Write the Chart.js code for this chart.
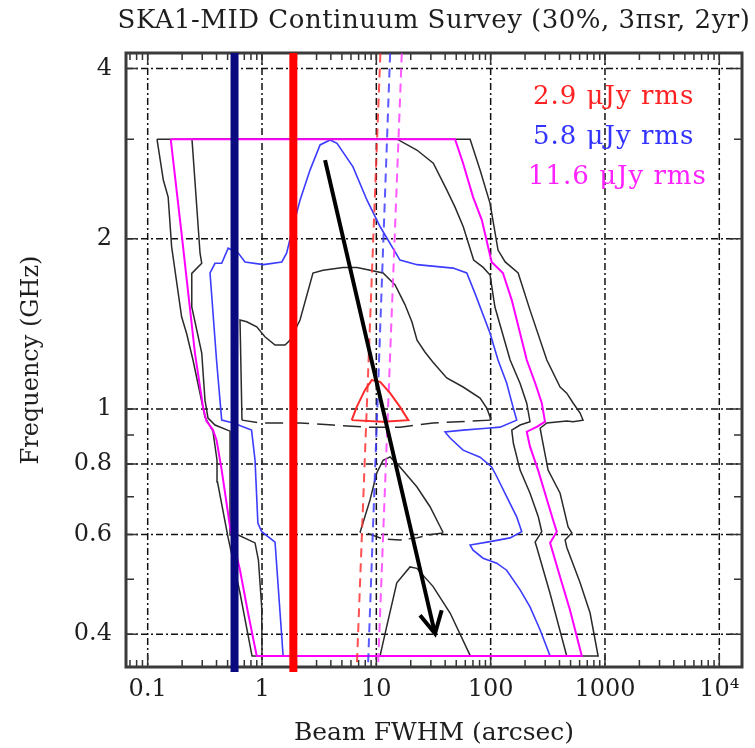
<!DOCTYPE html>
<html>
<head>
<meta charset="utf-8">
<title>SKA1-MID Continuum Survey</title>
<script src="https://cdn.jsdelivr.net/npm/chart.js@4.4.0/dist/chart.umd.min.js"></script>
<style>
  html, body { margin: 0; padding: 0; background: #fff; }
  #wrap { width: 755px; height: 748px; }
</style>
</head>
<body>
<div id="wrap"><canvas id="surveyChart" width="755" height="748"></canvas></div>
<script>
// Axis ranges and ticks
const xMin = 0.0646, xMax = 15800;
const yMin = 0.35, yMax = 4.26;
const xTicks = [0.1, 1, 10, 100, 1000, 10000];
const yTicks = [0.4, 0.6, 0.8, 1, 2, 4];
const yMinor = [0.5, 0.7, 0.9, 3];

// 11.6 uJy contour (magenta)
const magX = [0.159, 48.8, 57.4, 70.2, 83.6, 98.8, 102, 128, 153, 207, 245, 280, 299, 253, 207, 221, 260, 299, 352, 379, 331, 405, 495, 627, 0.899, 0.755, 0.642, 0.525, 0.444, 0.401, 0.373, 0.326, 0.305, 0.259, 0.1995, 0.159];
const magY = [3.0, 3.0, 2.72, 2.37, 2.16, 1.87, 1.82, 1.74, 1.558, 1.221, 1.112, 1.025, 0.95, 0.93, 0.912, 0.858, 0.78, 0.71, 0.636, 0.607, 0.58, 0.505, 0.441, 0.366, 0.366, 0.436, 0.519, 0.619, 0.78, 0.88, 0.918, 0.953, 1.008, 1.256, 2.014, 3.0];

// 5.8 uJy contour (blue)
const blueX = [1.53, 1.30, 0.994, 0.92, 0.869, 0.81, 0.56, 0.444, 0.40, 0.351, 0.388, 0.444, 0.506, 0.62, 0.71, 1.03, 1.49, 1.64, 1.87, 2.15, 2.63, 3.22, 3.94, 4.53, 6.25, 8.29, 10.8, 16.1, 22.7, 46.9, 61.8, 73.1, 98.8, 116, 138, 157, 169, 121, 92.5, 57.4, 39.9, 44.2, 57.4, 80.8, 102, 113, 138, 169, 187, 148, 98.8, 66.1, 70.2, 85.8, 113, 138, 181, 221, 271, 331, 1.53];
const blueY = [0.366, 0.582, 0.607, 0.629, 0.812, 0.918, 0.945, 0.956, 1.221, 1.74, 1.81, 1.81, 1.925, 1.887, 1.82, 1.80, 1.82, 1.886, 2.10, 2.34, 2.645, 2.93, 2.99, 2.95, 2.68, 2.34, 2.10, 1.834, 1.80, 1.775, 1.74, 1.60, 1.362, 1.221, 1.112, 1.008, 0.956, 0.929, 0.925, 0.918, 0.911, 0.889, 0.846, 0.822, 0.79, 0.76, 0.70, 0.645, 0.607, 0.592, 0.583, 0.575, 0.563, 0.545, 0.534, 0.519, 0.479, 0.447, 0.407, 0.366, 0.366];

// 2.9 uJy contour (red)
const redX = [6.09, 6.74, 7.96, 9.12, 10.8, 13.2, 16.1, 19.05, 11.45, 6.09];
const redY = [0.956, 1.009, 1.081, 1.125, 1.117, 1.067, 1.009, 0.956, 0.95, 0.956];

// black contours
const outerX = [0.1206, 66.1, 80.8, 98.8, 116, 134, 174, 221, 310, 405, 463, 526, 606, 643, 526, 463, 310, 271, 280, 318, 405, 476, 513, 448, 463, 606, 741, 871, 0.818, 0.642, 0.504, 0.408, 0.404, 0.372, 0.317, 0.249, 0.219, 0.198, 0.162, 0.151, 0.137, 0.1206];
const outerY = [3.0, 3.0, 2.645, 2.31, 1.91, 1.82, 1.74, 1.496, 1.221, 1.094, 1.067, 1.025, 0.984, 0.956, 0.95, 0.953, 0.945, 0.925, 0.892, 0.78, 0.71, 0.619, 0.604, 0.587, 0.57, 0.493, 0.436, 0.366, 0.366, 0.473, 0.594, 0.743, 0.812, 0.914, 0.968, 1.221, 1.36, 1.456, 1.935, 2.37, 2.54, 3.0];
const innerX = [0.244, 15.2, 22.6, 31.5, 41.3, 48.8, 57.6, 71, 86, 98.8, 109, 148, 181, 207, 221, 181, 153, 158, 181, 221, 261, 280, 245, 253, 331, 463, 1.0, 0.994, 0.93, 0.869, 0.62, 0.525, 0.525, 0.388, 0.337, 0.317, 0.297, 0.243, 0.243, 0.297, 0.287, 0.244];
const innerY = [3.0, 3.0, 2.87, 2.72, 2.44, 2.275, 2.10, 1.834, 1.78, 1.726, 1.515, 1.221, 1.11, 1.023, 0.95, 0.937, 0.918, 0.87, 0.78, 0.71, 0.645, 0.607, 0.582, 0.57, 0.472, 0.366, 0.366, 0.446, 0.541, 0.58, 0.599, 0.599, 0.914, 0.937, 0.964, 1.037, 1.256, 1.515, 1.737, 1.81, 1.886, 3.0];
const midX = [0.668, 0.642, 0.735, 0.899, 1.06, 1.30, 1.59, 1.76, 2.15, 2.79, 3.42, 5.11, 6.78, 11.45, 14.6, 17.8, 20.5, 22.7, 26.7, 31.3, 41.3, 57.4, 80.8, 92.5, 98.8, 100];
const midY = [0.956, 1.437, 1.427, 1.398, 1.342, 1.298, 1.298, 1.324, 1.437, 1.74, 1.76, 1.78, 1.78, 1.74, 1.657, 1.53, 1.425, 1.324, 1.26, 1.21, 1.135, 1.094, 1.046, 1.004, 0.968, 0.956];
const midDashX = [100, 31.3, 16.1, 8.29, 4.18, 2.15, 0.961, 0.668];
const midDashY = [0.956, 0.945, 0.929, 0.929, 0.937, 0.945, 0.945, 0.956];
const bumpX = [7.2, 8.81, 10.08, 11.45, 13.2, 16.1, 22.6, 29.5, 36.1, 38.4];
const bumpY = [0.605, 0.691, 0.771, 0.812, 0.823, 0.79, 0.729, 0.672, 0.62, 0.605];
const bumpDashX = [38.4, 31.3, 22.6, 16.1, 11.45, 8.24, 7.2];
const bumpDashY = [0.604, 0.601, 0.592, 0.587, 0.589, 0.604, 0.605];
const lowX = [10.8, 12.33, 15.1, 19.7, 22.6, 31.3, 44.2, 66.1];
const lowY = [0.367, 0.413, 0.493, 0.526, 0.523, 0.486, 0.436, 0.367];

// dashed confusion lines
const confY = [4.25, 0.35];
const confRedX = [10.85, 6.75];
const confBlueX = [13.2, 8.45];
const confMagX = [16.7, 10.35];

// thick markers and arrow
const barY = [4.26, 0.343];
const navyBeam = 0.575;
const redBeam = 1.88;
const arrowX = [3.56, 32.6];
const arrowY = [2.755, 0.401];
const headX = [24.1, 32.6, 37.3];
const headY = [0.432, 0.401, 0.441];

const FONT = '"DejaVu Serif", "Liberation Serif", serif';
const TEXT = '#1e1e1e';

function pts(xs, ys) {
  return xs.map((v, i) => ({ x: v, y: ys[i] }));
}

function curve(xs, ys, color, width, dash, extra) {
  return Object.assign({
    data: pts(xs, ys),
    showLine: true,
    borderColor: color,
    borderWidth: width,
    borderDash: dash || [],
    pointRadius: 0,
    fill: false,
    tension: 0
  }, extra || {});
}

function logMinors(lo, hi) {
  const out = [];
  for (let e = Math.floor(Math.log10(lo)); e <= Math.ceil(Math.log10(hi)); e++) {
    for (let k = 2; k <= 9; k++) {
      const v = k * Math.pow(10, e);
      if (v > lo && v < hi) out.push(v);
    }
  }
  return out;
}

// grid, ticks, frame, title and legend text
const frameDecor = {
  id: 'frameDecor',
  beforeDatasetsDraw(chart) {
    const { ctx, chartArea: a } = chart;
    const x = chart.scales.x, y = chart.scales.y;
    ctx.save();
    ctx.strokeStyle = '#111';
    ctx.lineWidth = 1.5;
    ctx.setLineDash([7, 3, 2, 3]);
    xTicks.forEach(v => {
      const px = x.getPixelForValue(v);
      ctx.beginPath(); ctx.moveTo(px, a.top); ctx.lineTo(px, a.bottom); ctx.stroke();
    });
    yTicks.forEach(v => {
      const py = y.getPixelForValue(v);
      ctx.beginPath(); ctx.moveTo(a.left, py); ctx.lineTo(a.right, py); ctx.stroke();
    });
    ctx.setLineDash([]);

    // inward ticks on all sides
    ctx.strokeStyle = '#333';
    ctx.lineWidth = 1.5;
    const tickX = (v, len) => {
      const px = x.getPixelForValue(v);
      ctx.beginPath();
      ctx.moveTo(px, a.bottom); ctx.lineTo(px, a.bottom - len);
      ctx.moveTo(px, a.top); ctx.lineTo(px, a.top + len);
      ctx.stroke();
    };
    const tickY = (v, len) => {
      const py = y.getPixelForValue(v);
      ctx.beginPath();
      ctx.moveTo(a.left, py); ctx.lineTo(a.left + len, py);
      ctx.moveTo(a.right, py); ctx.lineTo(a.right - len, py);
      ctx.stroke();
    };
    logMinors(xMin, xMax).forEach(v => tickX(v, 7));
    xTicks.forEach(v => tickX(v, 12));
    yMinor.forEach(v => tickY(v, 8));
    yTicks.forEach(v => tickY(v, 12));

    ctx.lineWidth = 3;
    ctx.strokeStyle = '#3a3a3a';
    ctx.strokeRect(a.left, a.top, a.right - a.left, a.bottom - a.top);
    ctx.restore();
  },
  afterDraw(chart) {
    const { ctx, chartArea: a } = chart;
    ctx.save();
    ctx.font = '26px ' + FONT;
    ctx.fillStyle = TEXT;
    ctx.textAlign = 'center';
    ctx.textBaseline = 'middle';
    ctx.letterSpacing = '0.5px';
    ctx.fillText('SKA1-MID Continuum Survey (30%, 3\u03c0sr, 2yr)', (a.left + a.right) / 2, 21);

    ctx.font = '26px ' + FONT;
    ctx.letterSpacing = '1px';
    ctx.textAlign = 'left';
    ctx.fillStyle = '#ff2222';
    ctx.fillText('2.9 \u03bcJy rms', 533, 97);
    ctx.fillStyle = '#3333ff';
    ctx.fillText('5.8 \u03bcJy rms', 533, 137);
    ctx.fillStyle = '#ff22ff';
    ctx.fillText('11.6 \u03bcJy rms', 528, 177);
    ctx.restore();
  }
};

const datasets = [
  curve([navyBeam, navyBeam], barY, '#0a0a80', 8, null, { clip: false }),
  curve([redBeam, redBeam], barY, '#ff0000', 8, null, { clip: false }),
  curve(arrowX, arrowY, '#000', 4),
  curve(headX, headY, '#000', 4),
  curve(redX, redY, '#ff2a2a', 2),
  curve(confRedX, confY, 'rgba(255,50,50,0.85)', 2, [9, 6]),
  curve(confBlueX, confY, 'rgba(60,60,255,0.85)', 2, [9, 6]),
  curve(confMagX, confY, 'rgba(255,60,255,0.85)', 2, [9, 6]),
  curve(magX, magY, '#ff00ff', 2),
  curve(blueX, blueY, '#3c3cff', 1.6),
  curve(outerX, outerY, '#2a2a2a', 1.5),
  curve(innerX, innerY, '#2a2a2a', 1.5),
  curve(midX, midY, '#2a2a2a', 1.5),
  curve(midDashX, midDashY, '#2a2a2a', 1.5, [18, 8]),
  curve(bumpX, bumpY, '#2a2a2a', 1.5),
  curve(bumpDashX, bumpDashY, '#2a2a2a', 1.5, [14, 7]),
  curve(lowX, lowY, '#2a2a2a', 1.5)
];

new Chart(document.getElementById('surveyChart').getContext('2d'), {
  type: 'scatter',
  data: { datasets },
  options: {
    responsive: false,
    animation: false,
    events: [],
    layout: { padding: { top: 53, right: 13, left: 0, bottom: 0 } },
    plugins: {
      legend: { display: false },
      tooltip: { enabled: false },
      title: { display: false }
    },
    scales: {
      x: {
        type: 'logarithmic',
        position: 'bottom',
        min: xMin,
        max: xMax,
        grid: { display: false, drawTicks: false },
        border: { display: false },
        afterBuildTicks: s => { s.ticks = xTicks.map(v => ({ value: v })); },
        afterFit: s => { s.height = 81; },
        ticks: {
          autoSkip: false,
          maxRotation: 0,
          padding: 8,
          color: TEXT,
          font: { family: FONT, size: 24 },
          callback: v => (v === 10000 ? '10\u2074' : String(v))
        },
        title: {
          display: true,
          text: 'Beam FWHM (arcsec)',
          color: TEXT,
          font: { family: FONT, size: 25 },
          padding: { top: 0, bottom: 0 }
        }
      },
      y: {
        type: 'logarithmic',
        position: 'left',
        min: yMin,
        max: yMax,
        grid: { display: false, drawTicks: false },
        border: { display: false },
        afterBuildTicks: s => { s.ticks = yTicks.map(v => ({ value: v })); },
        afterFit: s => { s.width = 126; },
        ticks: {
          autoSkip: false,
          padding: 14,
          color: TEXT,
          font: { family: FONT, size: 24 },
          callback: v => String(v)
        },
        title: {
          display: true,
          text: 'Frequency (GHz)',
          color: TEXT,
          font: { family: FONT, size: 24 },
          padding: { top: 17, bottom: 0 }
        }
      }
    }
  },
  plugins: [frameDecor]
});
</script>
</body>
</html>
